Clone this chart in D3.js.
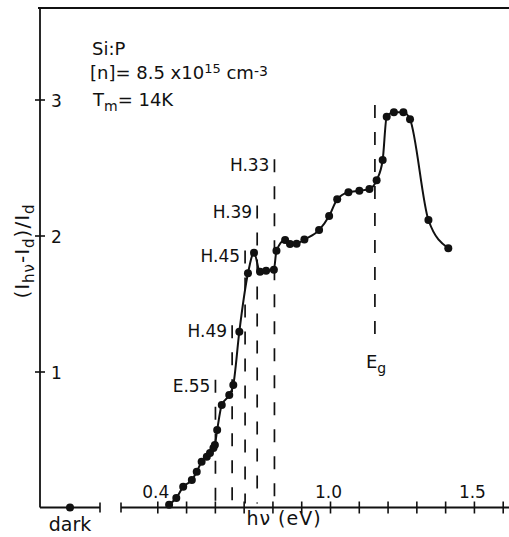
<!DOCTYPE html>
<html>
<head>
<meta charset="utf-8">
<script src="https://cdn.jsdelivr.net/npm/d3@7"></script>
<style>
  body { margin: 0; background: #fff; }
  text { font-family: "DejaVu Sans", sans-serif; fill: #111; }
</style>
</head>
<body>
<div class="chart"></div>
<script>
// photoconductivity spectrum, Si:P
const energy = [0.441, 0.466, 0.490, 0.520, 0.537, 0.554, 0.572, 0.583, 0.595, 0.600,
  0.608, 0.624, 0.650, 0.664, 0.685, 0.715, 0.736, 0.757, 0.778, 0.805,
  0.814, 0.844, 0.861, 0.884, 0.911, 0.962, 0.997, 1.025, 1.064, 1.102,
  1.137, 1.162, 1.183, 1.197, 1.222, 1.255, 1.278, 1.342, 1.411];
const signal = [0.02, 0.07, 0.153, 0.202, 0.263, 0.337, 0.374, 0.401, 0.438, 0.46,
  0.57, 0.754, 0.827, 0.901, 1.293, 1.722, 1.873, 1.734, 1.741, 1.748,
  1.888, 1.967, 1.938, 1.94, 1.971, 2.04, 2.143, 2.266, 2.318, 2.329,
  2.342, 2.406, 2.555, 2.874, 2.906, 2.906, 2.854, 2.114, 1.906];

const darkValue = 0;

const levelNames = ["E.55", "H.49", "H.45", "H.39", "H.33"];
const levelEnergy = [0.602, 0.660, 0.705, 0.747, 0.807];
const levelTop = [0.94, 1.34, 1.89, 2.22, 2.56];

const gapEnergy = 1.156;
const gapRange = [1.19, 2.96];

const xTicks = d3.range(4, 17).map(d => d / 10);
const xTickLabels = [0.4, 1.0, 1.5];
const yTicks = [1, 2, 3];

const width = 509, height = 537;

const svg = d3.select(".chart").append("svg")
  .attr("width", width)
  .attr("height", height);

const x = d3.scaleLinear().domain([0.4, 1.6]).range([157.3, 502.7]);
const y = d3.scaleLinear().domain([0, 3]).range([507.5, 99.5]);
const xDark = d3.scalePoint().domain(["dark"]).range([40, 100]).padding(0.5);

const ink = "#111";
const fs = "17px";

// frame: top line and y axis
svg.append("line")
  .attr("x1", 38).attr("x2", width)
  .attr("y1", 8).attr("y2", 8)
  .attr("stroke", ink).attr("stroke-width", 1.8);

svg.append("line")
  .attr("x1", 40).attr("x2", 40)
  .attr("y1", 8).attr("y2", y(0))
  .attr("stroke", ink).attr("stroke-width", 1.8);

// dark segment of x axis
svg.append("line")
  .attr("x1", 40).attr("x2", 100)
  .attr("y1", y(0)).attr("y2", y(0))
  .attr("stroke", ink).attr("stroke-width", 1.8);
svg.append("line")
  .attr("x1", 100).attr("x2", 100)
  .attr("y1", y(0) - 5).attr("y2", y(0) + 5)
  .attr("stroke", ink).attr("stroke-width", 1.6);

// main x axis
svg.append("line")
  .attr("x1", 121).attr("x2", width)
  .attr("y1", y(0)).attr("y2", y(0))
  .attr("stroke", ink).attr("stroke-width", 1.8);
svg.append("line")
  .attr("x1", 121).attr("x2", 121)
  .attr("y1", y(0) - 5).attr("y2", y(0) + 5)
  .attr("stroke", ink).attr("stroke-width", 1.6);

const xAxis = svg.append("g")
  .attr("transform", `translate(0, ${y(0)})`)
  .call(d3.axisBottom(x)
    .tickValues(xTicks)
    .tickSize(6)
    .tickFormat(d => xTickLabels.some(v => Math.abs(v - d) < 1e-6) ? d3.format(".1f")(d) : ""));

xAxis.select(".domain").remove();
xAxis.selectAll(".tick line")
  .attr("y1", -6).attr("y2", 6)
  .attr("stroke", ink).attr("stroke-width", 1.6);
xAxis.selectAll(".tick text")
  .attr("y", -10).attr("dy", 0)
  .attr("dx", -2)
  .style("font-size", fs)
  .style("font-family", "DejaVu Sans");

// y axis ticks
const yAxis = svg.append("g")
  .attr("transform", "translate(45, 0)")
  .call(d3.axisLeft(y).tickValues(yTicks).tickSize(10).tickFormat(d3.format("d")));

yAxis.select(".domain").remove();
yAxis.selectAll(".tick line").attr("stroke", ink).attr("stroke-width", 1.6);
yAxis.selectAll(".tick text")
  .attr("x", 6)
  .attr("dy", "0.4em")
  .attr("text-anchor", "start")
  .style("font-size", fs)
  .style("font-family", "DejaVu Sans");

// level markers
levelNames.forEach((name, i) => {
  const lx = x(levelEnergy[i]);
  svg.append("line")
    .attr("x1", lx).attr("x2", lx)
    .attr("y1", y(levelTop[i])).attr("y2", y(0) - 4)
    .attr("stroke", ink)
    .attr("stroke-width", 1.7)
    .attr("stroke-dasharray", "13,14");
  svg.append("text")
    .attr("x", lx - 5)
    .attr("y", y(levelTop[i]) + 12)
    .attr("text-anchor", "end")
    .style("font-size", fs)
    .text(name);
});

// band gap marker
svg.append("line")
  .attr("x1", x(gapEnergy)).attr("x2", x(gapEnergy))
  .attr("y1", y(gapRange[1])).attr("y2", y(gapRange[0]))
  .attr("stroke", ink)
  .attr("stroke-width", 1.7)
  .attr("stroke-dasharray", "13,14");

const eg = svg.append("text")
  .attr("x", x(gapEnergy) - 9)
  .attr("y", y(gapRange[0]) + 22)
  .style("font-size", "18px");
eg.append("tspan").text("E");
eg.append("tspan").attr("dy", 5).style("font-size", "14px").text("g");

// curve and points
const points = energy.map((e, i) => [e, signal[i]]);

svg.append("path")
  .datum(points)
  .attr("fill", "none")
  .attr("stroke", ink)
  .attr("stroke-width", 2)
  .attr("d", d3.line()
    .x(d => x(d[0]))
    .y(d => y(d[1]))
    .curve(d3.curveMonotoneX));

svg.selectAll("circle.pt")
  .data(points)
  .enter()
  .append("circle")
  .attr("class", "pt")
  .attr("cx", d => x(d[0]))
  .attr("cy", d => y(d[1]))
  .attr("r", 4)
  .attr("fill", ink);

svg.append("circle")
  .attr("cx", xDark("dark"))
  .attr("cy", y(darkValue))
  .attr("r", 4)
  .attr("fill", ink);

// axis labels
svg.append("text")
  .attr("x", xDark("dark"))
  .attr("y", 531)
  .attr("text-anchor", "middle")
  .style("font-size", "19px")
  .text("dark");

svg.append("text")
  .attr("x", 284)
  .attr("y", 525)
  .attr("text-anchor", "middle")
  .style("font-size", "19px")
  .style("letter-spacing", "1px")
  .text("hν (eV)");

const yLabel = svg.append("text")
  .attr("transform", "translate(29, 251) rotate(-90)")
  .attr("text-anchor", "middle")
  .style("font-size", "20px")
  .style("letter-spacing", "1px");
yLabel.append("tspan").text("(I");
yLabel.append("tspan").attr("dy", 5).style("font-size", "15px").text("hν");
yLabel.append("tspan").attr("dy", -5).text("-I");
yLabel.append("tspan").attr("dy", 5).style("font-size", "15px").text("d");
yLabel.append("tspan").attr("dy", -5).text(")/I");
yLabel.append("tspan").attr("dy", 5).style("font-size", "15px").text("d");

// sample info
svg.append("text")
  .attr("x", 92).attr("y", 55)
  .style("font-size", "18px")
  .text("Si:P");

const conc = svg.append("text")
  .attr("x", 90).attr("y", 79)
  .style("font-size", "18px");
conc.append("tspan").text("[n]= 8.5 x10");
conc.append("tspan").attr("dy", -6).style("font-size", "13px").text("15");
conc.append("tspan").attr("dy", 6).text(" cm");
conc.append("tspan").attr("dy", -3).style("font-size", "14px").text("-3");

const temp = svg.append("text")
  .attr("x", 93).attr("y", 106)
  .style("font-size", "18px");
temp.append("tspan").text("T");
temp.append("tspan").attr("dy", 5).style("font-size", "14px").text("m");
temp.append("tspan").attr("dy", -5).text("= 14K");
</script>
</body>
</html>
